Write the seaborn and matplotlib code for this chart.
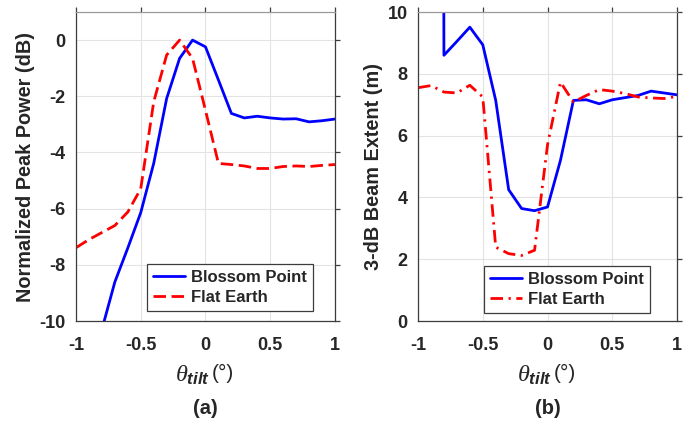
import numpy as np
import pandas as pd
import matplotlib
matplotlib.use("Agg")
import matplotlib.pyplot as plt
import matplotlib.transforms as mtransforms
import seaborn as sns

# Tilt angles (degrees)
theta = [-1.0, -0.9, -0.8, -0.7, -0.6, -0.5, -0.4, -0.3, -0.2, -0.1, 0.0,
         0.1, 0.2, 0.3, 0.4, 0.5, 0.6, 0.7, 0.8, 0.9, 1.0]

# (a) Normalized peak power (dB)
power_blossom = [-14.0, -12.0, -10.3, -8.61, -7.4, -6.14, -4.39, -2.08, -0.65, 0.0, -0.24,
                 -1.42, -2.61, -2.77, -2.71, -2.77, -2.81, -2.80, -2.91, -2.87, -2.81]
power_flat = [-7.39, -7.1, -6.85, -6.6, -6.12, -5.29, -2.2, -0.53, 0.0, -0.65, -2.5,
              -4.39, -4.43, -4.48, -4.57, -4.57, -4.5, -4.48, -4.5, -4.46, -4.43]

# (b) 3-dB beam extent (m)
extent_blossom = [200.0, 200.0, 8.60, 9.05, 9.51, 8.94, 7.14, 4.25, 3.64, 3.57, 3.69,
                  5.2, 7.14, 7.16, 7.03, 7.16, 7.23, 7.3, 7.44, 7.38, 7.32]
extent_flat = [7.55, 7.62, 7.41, 7.38, 7.63, 7.25, 2.39, 2.18, 2.12, 2.29, 5.7,
               7.73, 7.09, 7.3, 7.49, 7.44, 7.36, 7.25, 7.22, 7.2, 7.27]

series_names = ["Blossom Point", "Flat Earth"]
x_ticks = [-1, -0.5, 0, 0.5, 1]
x_tick_labels = ["-1", "-0.5", "0", "0.5", "1"]

sns.set_style("white")
plt.rcParams["font.family"] = ["Liberation Sans", "DejaVu Sans"]
plt.rcParams["font.weight"] = "bold"
plt.rcParams["axes.unicode_minus"] = False
plt.rcParams["mathtext.fontset"] = "custom"
plt.rcParams["mathtext.it"] = "Liberation Serif:italic:normal"
plt.rcParams["mathtext.bfit"] = "Liberation Sans:italic:bold"
plt.rcParams["mathtext.rm"] = "Liberation Sans:normal"

fig = plt.figure(figsize=(6.98, 4.25), dpi=100)
ax_a = fig.add_axes([0.1089, 0.2447, 0.371, 0.727])
ax_b = fig.add_axes([0.5989, 0.2447, 0.371, 0.727])

SPINE = "#3c3c3c"


def style_axes(ax, ylim, yticks, ylabel, caption, legend_anchor):
    ax.set_xlim(-1, 1)
    ax.set_ylim(*ylim)
    ax.set_xticks(x_ticks)
    ax.set_xticklabels(x_tick_labels)
    ax.set_yticks(yticks)
    ax.set_yticklabels([str(v) for v in yticks])
    ax.grid(True, color="#e3e3e3", linewidth=0.8)
    ax.set_axisbelow(True)
    for sp in ax.spines.values():
        sp.set_visible(True)
        sp.set_color(SPINE)
        sp.set_linewidth(0.9)
    ax.spines["top"].set_color("#9a9a9a")
    ax.tick_params(direction="out", length=3.5, width=0.9, color=SPINE,
                   top=True, right=True, labelsize=13)
    ax.tick_params(axis="x", pad=8)
    ax.tick_params(axis="y", pad=4)
    for lab in ax.get_xticklabels() + ax.get_yticklabels():
        lab.set_fontweight("bold")
    ax.set_ylabel(ylabel, fontsize=14.3, fontweight="bold", labelpad=3)
    ax.set_xlabel("")

    # x-axis label: large italic theta with bold-italic subscript, then unit
    tr = mtransforms.blended_transform_factory(ax.transAxes, fig.transFigure)
    ax.text(0.517, 0.117, r"$\theta_{\mathbfit{tilt}}$", transform=tr,
            ha="right", va="center", fontsize=17.5)
    ax.text(0.525, 0.121, "(°)", transform=tr, ha="left", va="center",
            fontsize=15, fontweight="normal")
    ax.text(0.5, 0.04, caption, transform=tr, ha="center",
            va="center", fontsize=14.5, fontweight="bold")

    leg = ax.legend(loc="lower right", bbox_to_anchor=legend_anchor,
                    fancybox=False, framealpha=1, edgecolor=SPINE,
                    prop={"weight": "bold", "size": 12}, handlelength=1.9,
                    borderpad=0.35, labelspacing=0.3, handletextpad=0.4,
                    borderaxespad=0)
    leg.get_frame().set_linewidth(0.9)


df_a = pd.DataFrame({"theta": theta, "bp": power_blossom, "fe": power_flat})
sns.lineplot(data=df_a, x="theta", y="bp", ax=ax_a, color="#0000ff",
             linewidth=2, label=series_names[0])
sns.lineplot(data=df_a, x="theta", y="fe", ax=ax_a, color="#ff0000",
             linewidth=2, linestyle="--", label=series_names[1])
ax_a.lines[1].set_dashes([4.5, 2])
style_axes(ax_a, (-10, 1), [-10, -8, -6, -4, -2, 0],
           "Normalized Peak Power (dB)", "(a)", (0.915, 0.032))

df_b = pd.DataFrame({"theta": theta, "bp": extent_blossom, "fe": extent_flat})
sns.lineplot(data=df_b, x="theta", y="bp", ax=ax_b, color="#0000ff",
             linewidth=2, label=series_names[0])
sns.lineplot(data=df_b, x="theta", y="fe", ax=ax_b, color="#ff0000",
             linewidth=2, linestyle="-.", label=series_names[1])
ax_b.lines[1].set_dashes([4.5, 2, 0.8, 2])
style_axes(ax_b, (0, 10), [0, 2, 4, 6, 8, 10],
           "3-dB Beam Extent (m)", "(b)", (0.896, 0.026))

fig.savefig("out.png", dpi=100)
